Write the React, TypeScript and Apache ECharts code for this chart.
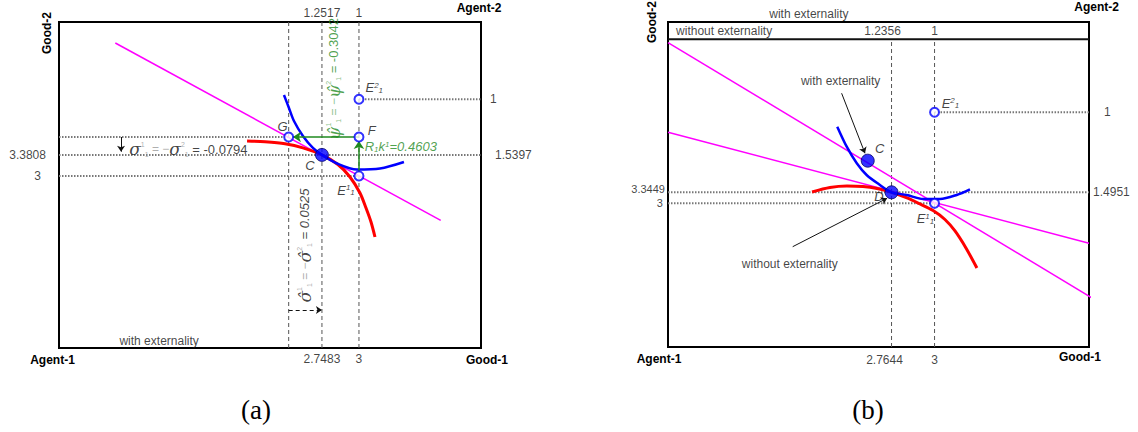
import React, { useEffect, useRef } from "react";
import * as echarts from "echarts";

const FONT = "'Liberation Sans', Arial, Helvetica, sans-serif";
const SERIF = "'DejaVu Serif', 'Liberation Serif', serif";
const GREEN = "#1f8a1f";

// ---------------- Panel (a): with externality ----------------
const aXRange = [0.96, 3.83];
const aYRange = [-0.12, 5.79];
const aGood1Ticks = [2.7483, 3];
const aGood1TickLabels = ["2.7483", "3"];
const aAgent2Good1Labels = ["1.2517", "1"];
const aGood2Ticks = [3.3808, 3];
const aGood2TickLabels = ["3.3808", "3"];
const aAgent2Good2Ticks = [3.3808, 4.389];
const aAgent2Good2Labels = ["1.5397", "1"];
const aPriceLine = [[1.343, 5.409], [3.556, 2.195]];
const aAgent2IC = [
  [2.239, 3.633], [2.361, 3.618], [2.497, 3.582], [2.619, 3.509], [2.7483, 3.3808],
  [2.857, 3.207], [2.939, 2.98], [3.007, 2.69], [3.048, 2.418], [3.082, 2.164], [3.109, 1.892],
];
const aAgent1IC = [
  [2.49, 4.467], [2.524, 4.231], [2.558, 3.995], [2.619, 3.723], [2.687, 3.506], [2.7483, 3.3808],
  [2.851, 3.225], [2.987, 3.116], [3.143, 3.134], [3.306, 3.252],
];
const aFilledPoints = [[2.7483, 3.3808]]; // C
const aOpenPoints = [[2.522, 3.705], [3, 3.705], [3, 3], [3, 4.389]]; // G, F, E11, E21
const aDashedX = [2.522, 2.7483, 3];
const aDottedH = [[3.705, 0.96, 2.522], [3.3808, 0.96, 3.83], [3, 0.96, 3], [4.389, 3, 3.83]];
const aGreenArrows = [
  [[3, 3.705], [2.551, 3.705]],
  [[3, 3.071], [3, 3.633]],
];
const aSigmaArrow = [[1.382, 3.705], [1.382, 3.44]];
const aSigmaHatArrow = [[2.522, 0.569], [2.7483, 0.569]];
const aPointLabels = ["{it|G}", "{it|C}", "{it|F}", "{it|E}{sp|1}{sb|1}", "{it|E}{sp|2}{sb|1}"];
const aPointLabelAnchors = [[2.481, 3.892], [2.667, 3.18], [3.087, 3.832], [2.912, 2.744], [3.104, 4.594]];
const aTransferText = "{g|R}{gsb|1}{g|k}{gsp|1}{g|=0.4603}";
const aTransferAnchor = [3.039, 3.529];
const aPsiText = "{ggk|ψ̂}{gtsp|1}{gtsb|1}{geq| = −}{ggk|ψ̂}{gtsp|2}{gtsb|1}{gnum| = -0.3042}";
const aPsiAnchor = [2.83, 4.757];
const aSigmaHatText = "{gk|σ̂}{tsp|1}{tsb|1}{eq| = −}{gk|σ̂}{tsp|2}{tsb|1}{numi| = 0.0525}";
const aSigmaHatAnchor = [2.633, 1.738];
const aSigmaText = "{gk|σ}{tsp|1}{tsb|1}{eq| = −}{gk|σ}{tsp|2}{tsb|1}{num| = -0.0794}";
const aSigmaAnchor = [1.84, 3.482];
const aRegimeText = "with externality";
const aRegimeAnchor = [1.641, 0.012];

// ---------------- Panel (b): with vs without externality ----------------
const bXRange = [1.54, 3.846];
const bYRange = [-1.5, 8.68];
const bBandY = 8.14;
const bGood1Ticks = [2.7644, 3];
const bGood1TickLabels = ["2.7644", "3"];
const bAgent2Good1Labels = ["1.2356", "1"];
const bGood2Ticks = [3.3449, 3];
const bGood2TickLabels = ["3.3449", "3"];
const bAgent2Good2Ticks = [3.3449, 5.853];
const bAgent2Good2Labels = ["1.4951", "1"];
const bPriceLineWith = [[1.54, 8.033], [3.891, -0.059]];
const bPriceLineWithout = [[1.54, 5.226], [3.846, 1.749]];
const bAgent1IC = [
  [2.467, 5.402], [2.519, 4.775], [2.574, 4.255], [2.628, 3.888], [2.701, 3.575], [2.7644, 3.3449],
  [2.847, 3.262], [2.938, 3.137], [3.03, 3.137], [3.121, 3.262], [3.194, 3.44],
];
const bAgent2IC = [
  [2.329, 3.356], [2.427, 3.497], [2.52, 3.544], [2.608, 3.528], [2.685, 3.466], [2.7644, 3.3449],
  [2.849, 3.168], [2.92, 2.98], [2.992, 2.776], [3.057, 2.494], [3.112, 2.134], [3.172, 1.601], [3.232, 0.975],
];
const bFilledPoints = [[2.634, 4.336], [2.7644, 3.3449]]; // C, D
const bOpenPoints = [[3, 5.853], [3, 3]]; // E21, E11
const bDashedX = [2.7644, 3];
const bDottedH = [[3.3449, 1.54, 3.846], [3, 1.54, 3], [5.853, 3, 3.846]];
const bArrows = [
  [[2.491, 6.448], [2.619, 4.568]],
  [[2.223, 1.642], [2.74, 3.158]],
];
const bPointLabels = ["{it|C}", "{it|D}"];
const bPointLabelAnchors = [[2.7, 4.725], [2.696, 3.209]];
const bSideLabels = ["{it|E}{sp|2}{sb|1}", "{it|E}{sp|1}{sb|1}"];
const bSideLabelAnchors = [[3.039, 6.135], [2.902, 2.51]];
const bNoteTexts = ["with externality", "without externality", "without externality"];
const bNoteAnchors = [[2.268, 6.833], [1.944, 1.091], [1.584, 8.39]];
const bBandLabelY = 8.39;
const bTopNoteText = "with externality";
const bTopNoteAnchor = [2.312, 8.932];

const rich: any = {
  it: { fontFamily: FONT, fontStyle: "italic", fontSize: 13, color: "#111" },
  sp: { fontFamily: FONT, fontStyle: "italic", fontSize: 8, color: "#111", verticalAlign: "top" },
  sb: { fontFamily: FONT, fontStyle: "italic", fontSize: 8, color: "#111", verticalAlign: "bottom" },
  g: { fontFamily: FONT, fontStyle: "italic", fontSize: 13, color: GREEN },
  gsp: { fontFamily: FONT, fontStyle: "italic", fontSize: 8, color: GREEN, verticalAlign: "top" },
  gsb: { fontFamily: FONT, fontStyle: "italic", fontSize: 8, color: GREEN, verticalAlign: "bottom" },
  gk: { fontFamily: SERIF, fontStyle: "italic", fontSize: 17, color: "#111" },
  tsp: { fontFamily: FONT, fontSize: 7, color: "#999", verticalAlign: "top" },
  tsb: { fontFamily: FONT, fontSize: 7, color: "#999", verticalAlign: "bottom" },
  eq: { fontFamily: FONT, fontSize: 12, color: "#999" },
  num: { fontFamily: FONT, fontSize: 13, color: "#111" },
  numi: { fontFamily: FONT, fontSize: 13, fontStyle: "italic", color: "#111" },
  ggk: { fontFamily: SERIF, fontStyle: "italic", fontSize: 17, color: GREEN },
  gtsp: { fontFamily: FONT, fontSize: 7, color: "#6fb46f", verticalAlign: "top" },
  gtsb: { fontFamily: FONT, fontSize: 7, color: "#6fb46f", verticalAlign: "bottom" },
  geq: { fontFamily: FONT, fontSize: 12, color: "#6fb46f" },
  gnum: { fontFamily: FONT, fontSize: 13, color: GREEN },
};

const textBase = { show: true, fontFamily: FONT, fontSize: 12, color: "#111", rich };

function item(v: number[], formatter: string, extra: any = {}) {
  return { value: v, label: { ...textBase, formatter, ...extra } };
}

function seg(g: number, pts: number[][], lineStyle: any, z = 2, smooth: any = false) {
  return {
    type: "line", xAxisIndex: g, yAxisIndex: g, data: pts, symbol: "none", smooth,
    lineStyle, silent: true, clip: false, z, animation: false,
  };
}

function arrow(g: number, from: number[], to: number[], style: any, size = 8) {
  return {
    type: "line", xAxisIndex: g, yAxisIndex: g, data: [from, to], symbol: "none",
    lineStyle: { opacity: 0 }, silent: true, clip: false, z: 6, animation: false,
    markLine: {
      silent: true, symbol: ["none", "arrow"], symbolSize: size, label: { show: false },
      lineStyle: { type: "solid", ...style }, data: [[{ coord: from }, { coord: to }]], animation: false,
    },
  };
}

function points(g: number, pts: number[][], size: number, itemStyle: any) {
  return {
    type: "scatter", xAxisIndex: g, yAxisIndex: g, data: pts, symbol: "circle", symbolSize: size,
    itemStyle, silent: true, clip: false, z: 8, animation: false,
  };
}

function labels(g: number, data: any[]) {
  return {
    type: "scatter", xAxisIndex: g, yAxisIndex: g, data, symbolSize: 0.1,
    itemStyle: { color: "rgba(0,0,0,0)" }, silent: true, clip: false, z: 10, animation: false,
  };
}

const dashedStyle = { color: "#555", width: 1, type: [4, 3] };
const dottedStyle = { color: "#777", width: 2, type: [1.5, 1.5] };
const magenta = { color: "#ff00ff", width: 1.5 };
const redStyle = { color: "#ff0000", width: 3 };
const blueStyle = { color: "#0000ff", width: 2.5 };
const openStyle = { color: "#ffffff", borderColor: "#0000ff", borderWidth: 2 };
const filledStyle = { color: "#0000ff", borderColor: "#00006a", borderWidth: 1 };

function buildOption() {
  const series: any[] = [];
  // ---- panel a
  aDashedX.forEach((x) => series.push(seg(0, [[x, aYRange[0]], [x, aYRange[1]]], dashedStyle, 1)));
  aDottedH.forEach(([y, x1, x2]) => series.push(seg(0, [[x1, y], [x2, y]], dottedStyle, 1)));
  series.push(seg(0, aPriceLine, magenta, 3));
  series.push(seg(0, aAgent2IC, redStyle, 4, 0.3));
  series.push(seg(0, aAgent1IC, blueStyle, 4, 0.3));
  aGreenArrows.forEach(([f, t]) => series.push(arrow(0, f, t, { color: GREEN, width: 1.5 }, 8)));
  series.push(arrow(0, aSigmaArrow[0], aSigmaArrow[1], { color: "#111", width: 1 }, 6));
  series.push(arrow(0, aSigmaHatArrow[0], aSigmaHatArrow[1], { color: "#111", width: 1, type: [4, 3] }, 6));
  series.push(points(0, aOpenPoints, 9, openStyle));
  series.push(points(0, aFilledPoints, 13, filledStyle));
  const aLab: any[] = [];
  aGood1Ticks.forEach((v, i) => {
    aLab.push(item([v, aYRange[0]], aGood1TickLabels[i], { position: "bottom", distance: 5 }));
    aLab.push(item([v, aYRange[1]], aAgent2Good1Labels[i], { position: "top", distance: 3 }));
  });
  aGood2Ticks.forEach((v, i) =>
    aLab.push(item([aXRange[0], v], aGood2TickLabels[i], { position: "left", distance: i === 0 ? 13 : 18 })));
  aAgent2Good2Ticks.forEach((v, i) =>
    aLab.push(item([aXRange[1], v], aAgent2Good2Labels[i], { position: "right", distance: i === 0 ? 14 : 9 })));
  aPointLabels.forEach((t, i) => aLab.push(item(aPointLabelAnchors[i], t, { position: "inside" })));
  aLab.push(item(aTransferAnchor, aTransferText, { position: "right", distance: 0 }));
  aLab.push(item(aPsiAnchor, aPsiText, { position: "inside", rotate: 90 }));
  aLab.push(item(aSigmaHatAnchor, aSigmaHatText, { position: "inside", rotate: 90 }));
  aLab.push(item(aSigmaAnchor, aSigmaText, { position: "inside" }));
  aLab.push(item(aRegimeAnchor, aRegimeText, { position: "inside", fontSize: 12 }));
  series.push(labels(0, aLab));

  // ---- panel b
  bDashedX.forEach((x) => series.push(seg(1, [[x, bYRange[0]], [x, bBandY]], dashedStyle, 1)));
  bDottedH.forEach(([y, x1, x2]) => series.push(seg(1, [[x1, y], [x2, y]], dottedStyle, 1)));
  series.push(seg(1, [[bXRange[0], bBandY], [bXRange[1], bBandY]], { color: "#111", width: 2 }, 3));
  series.push(seg(1, bPriceLineWith, magenta, 3));
  series.push(seg(1, bPriceLineWithout, magenta, 3));
  series.push(seg(1, bAgent2IC, redStyle, 4, 0.3));
  series.push(seg(1, bAgent1IC, blueStyle, 4, 0.3));
  bArrows.forEach(([f, t]) => series.push(arrow(1, f, t, { color: "#111", width: 1 }, 6)));
  series.push(points(1, bOpenPoints, 9, openStyle));
  series.push(points(1, bFilledPoints, 13, filledStyle));
  const bLab: any[] = [];
  bGood1Ticks.forEach((v, i) => {
    const off = i === 0 ? [-7, 0] : [0, 0];
    bLab.push(item([v, bYRange[0]], bGood1TickLabels[i], { position: "bottom", distance: 7, offset: off }));
    bLab.push(item([v, bBandLabelY], bAgent2Good1Labels[i], { position: "inside", offset: i === 0 ? [-9, 0] : [0, 0] }));
  });
  bGood2Ticks.forEach((v, i) =>
    bLab.push(item([bXRange[0], v], bGood2TickLabels[i], {
      position: "left", distance: i === 0 ? 3 : 5, offset: i === 0 ? [0, -3] : [0, 0], fontSize: 11,
    })));
  bAgent2Good2Ticks.forEach((v, i) =>
    bLab.push(item([bXRange[1], v], bAgent2Good2Labels[i], { position: "right", distance: i === 0 ? 4 : 15 })));
  bPointLabels.forEach((t, i) => bLab.push(item(bPointLabelAnchors[i], t, { position: "inside" })));
  bSideLabels.forEach((t, i) => bLab.push(item(bSideLabelAnchors[i], t, { position: "right", distance: 0 })));
  bNoteTexts.forEach((t, i) => bLab.push(item(bNoteAnchors[i], t, { position: "right", distance: 0 })));
  bLab.push(item(bTopNoteAnchor, bTopNoteText, { position: "inside" }));
  series.push(labels(1, bLab));

  const title = (text: string, x: number, y: number, rot = 0) => ({
    type: "text", x, y, rotation: rot, z: 20, silent: true,
    style: { text, fontFamily: FONT, fontSize: 12, fontWeight: "bold", fill: "#000", align: "center", verticalAlign: "middle" },
  });
  const caption = (text: string, x: number, y: number) => ({
    type: "text", x, y, z: 20, silent: true,
    style: { text, fontFamily: "'Liberation Serif', serif", fontSize: 27, fill: "#000", align: "center", verticalAlign: "middle" },
  });

  return {
    animation: false,
    backgroundColor: "#fff",
    grid: [
      { left: 59, top: 22, width: 422, height: 326, show: true, borderColor: "#000", borderWidth: 2, backgroundColor: "transparent" },
      { left: 668, top: 22, width: 421, height: 325, show: true, borderColor: "#000", borderWidth: 2, backgroundColor: "transparent" },
    ],
    xAxis: [
      { gridIndex: 0, type: "value", min: aXRange[0], max: aXRange[1], show: false },
      { gridIndex: 1, type: "value", min: bXRange[0], max: bXRange[1], show: false },
    ],
    yAxis: [
      { gridIndex: 0, type: "value", min: aYRange[0], max: aYRange[1], show: false },
      { gridIndex: 1, type: "value", min: bYRange[0], max: bYRange[1], show: false },
    ],
    graphic: [
      title("Good-2", 46.7, 33, Math.PI / 2),
      title("Agent-2", 479, 7.5),
      title("Agent-1", 52.5, 360),
      title("Good-1", 487, 360),
      caption("(a)", 256, 410),
      title("Good-2", 651.7, 22, Math.PI / 2),
      title("Agent-2", 1096.7, 7),
      title("Agent-1", 659, 359),
      title("Good-1", 1080, 357),
      caption("(b)", 868, 410),
    ],
    series,
  };
}

export default function App() {
  const ref = useRef<HTMLDivElement>(null);
  useEffect(() => {
    if (!ref.current) return;
    const chart = echarts.init(ref.current, null, { renderer: "svg" });
    chart.setOption(buildOption() as any);
    return () => chart.dispose();
  }, []);
  return (
    <div
      ref={ref}
      style={{ position: "fixed", left: 0, top: 0, width: 1138, height: 432, background: "#fff" }}
    />
  );
}
